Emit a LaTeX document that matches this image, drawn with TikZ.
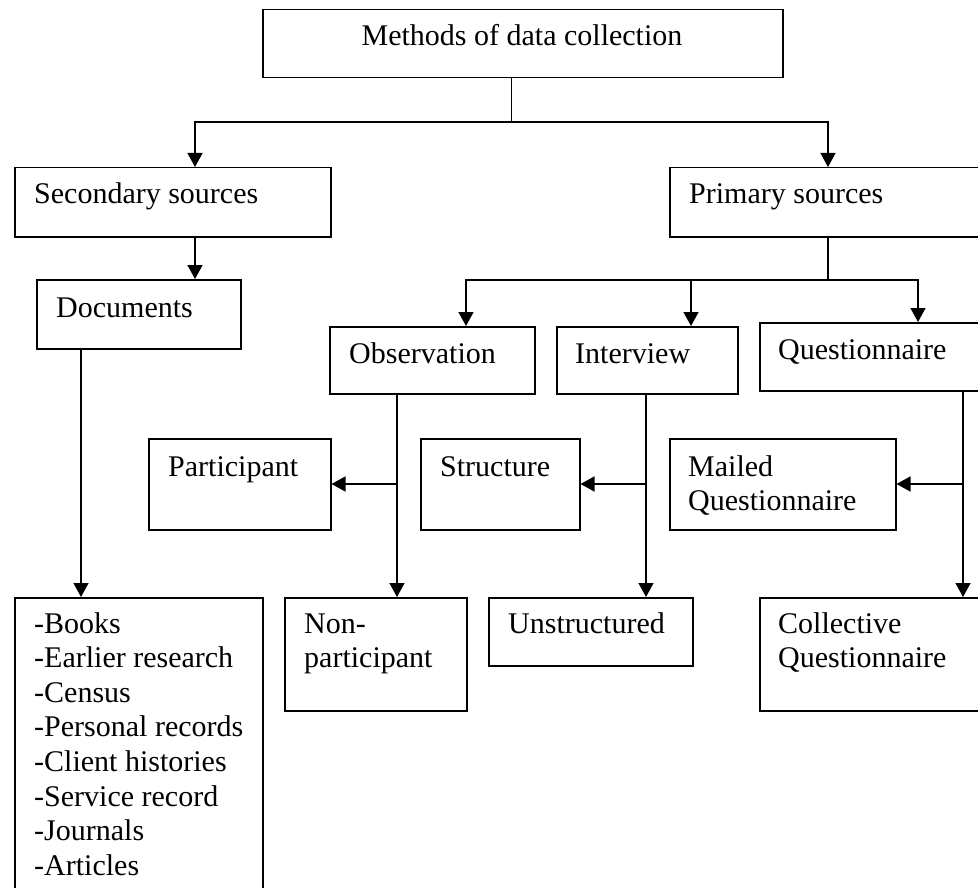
\documentclass[tikz,border=0pt]{standalone}
\usepackage{fontspec}
\setmainfont{Liberation Serif}
\usetikzlibrary{arrows.meta}
\begin{document}
\begin{tikzpicture}[x=1pt,y=-1pt,
  box/.style n args={2}{draw,line width=1.5pt,inner sep=0pt,anchor=north west,
    minimum width=#1,minimum height=#2},
  lbl/.style={anchor=base west,inner sep=0pt,align=left,font=\fontsize{30}{34.6}\selectfont},
  link/.style={line width=1.4pt},
  arr/.style={link,-{Triangle[length=14pt,width=15pt]}}]
\useasboundingbox (0,0) rectangle (978,888);

% boxes and their texts (multi-line texts are placed by their last baseline)
\node[box={520pt}{68pt}] (top) at (262,9) {};
\node[lbl,anchor=base] (toptxt) at (522,46) {Methods of data collection};
\node[box={316pt}{69pt}] (sec) at (14,167) {};
\node[lbl] (sectxt) at (34,204) {Secondary sources};
\node[box={318pt}{69pt}] (prim) at (669,167) {};
\node[lbl] (primtxt) at (689,204) {Primary sources};
\node[box={204pt}{69pt}] (doc) at (36,279) {};
\node[lbl] (doctxt) at (56,317) {Documents};
\node[box={205pt}{67pt}] (obs) at (329,326) {};
\node[lbl] (obstxt) at (349,363) {Observation};
\node[box={181pt}{67pt}] (int) at (556,326) {};
\node[lbl] (inttxt) at (575,363) {Interview};
\node[box={231pt}{68pt}] (que) at (759,322) {};
\node[lbl] (quetxt) at (778,359) {Questionnaire};
\node[box={182pt}{91pt}] (par) at (148,438) {};
\node[lbl] (partxt) at (168,476) {Participant};
\node[box={159pt}{91pt}] (str) at (420,438) {};
\node[lbl] (strtxt) at (440,476) {Structure};
\node[box={226pt}{91pt}] (mai) at (669,438) {};
\node[lbl] (maitxt) at (688,510.6) {Mailed\\Questionnaire};
\node[box={248pt}{303pt}] (boo) at (14,597) {};
\node[lbl] (bootxt) at (34,875.2) {-Books\\-Earlier research\\-Census\\-Personal records\\-Client histories\\-Service record\\-Journals\\-Articles};
\node[box={182pt}{113pt}] (non) at (284,597) {};
\node[lbl] (nontxt) at (304,667.6) {Non-\\participant};
\node[box={204pt}{68pt}] (uns) at (488,597) {};
\node[lbl] (unstxt) at (508,633) {Unstructured};
\node[box={231pt}{113pt}] (col) at (759,597) {};
\node[lbl] (coltxt) at (778,667.6) {Collective\\Questionnaire};

% top split
\coordinate (c1) at (511.5,122);
\coordinate (c2) at (195,122);
\coordinate (c3) at (828,122);
\draw[link] (top.south -| c1) -- (c1);
\draw[arr] (c1) -- (c2) -- (c2 |- sec.north);
\draw[arr] (c1) -- (c3) -- (c3 |- prim.north);

% secondary branch
\coordinate (c4) at (195,0);
\draw[arr] (sec.south -| c4) -- (doc.north -| c4);
\coordinate (c5) at (81,0);
\draw[arr] (doc.south -| c5) -- (boo.north -| c5);

% primary branch
\coordinate (c6) at (828,280);
\coordinate (c7) at (466,280);
\coordinate (c8) at (691,280);
\coordinate (c9) at (918,280);
\draw[link] (prim.south -| c6) -- (c6);
\draw[arr] (c6) -- (c7) -- (c7 |- obs.north);
\draw[arr] (c6) -- (c9) -- (c9 |- que.north);
\draw[arr] (c8) -- (c8 |- int.north);

% observation
\coordinate (c10) at (397,484);
\draw[arr] (obs.south -| c10) -- (non.north -| c10);
\draw[arr] (c10) -- (c10 -| par.east);
% interview
\coordinate (c11) at (646,484);
\draw[arr] (int.south -| c11) -- (uns.north -| c11);
\draw[arr] (c11) -- (c11 -| str.east);
% questionnaire
\coordinate (c12) at (963,484);
\draw[arr] (que.south -| c12) -- (col.north -| c12);
\draw[arr] (c12) -- (c12 -| mai.east);
\end{tikzpicture}
\end{document}
